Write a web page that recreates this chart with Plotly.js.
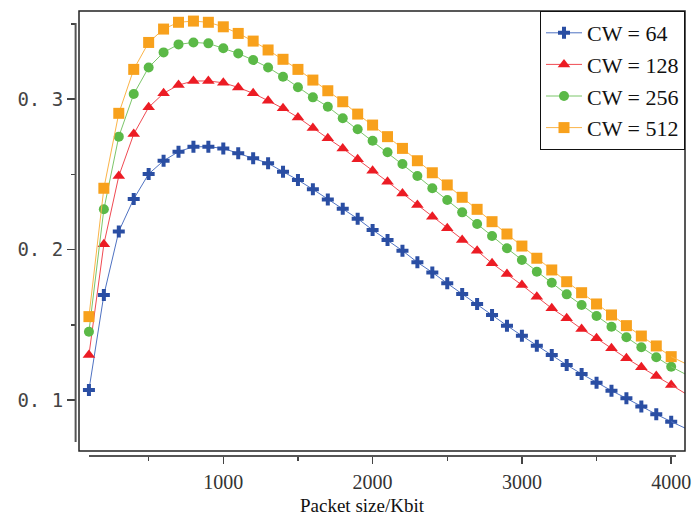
<!DOCTYPE html>
<html>
<head>
<meta charset="utf-8">
<script src="https://cdn.plot.ly/plotly-3.0.1.min.js"></script>
<style>html,body{margin:0;padding:0;background:#fff;}#chart{width:694px;height:516px;}</style>
</head>
<body>
<div id="chart"></div>
<script>
const packetSize = [100,200,300,400,500,600,700,800,900,1000,1100,1200,1300,1400,1500,1600,1700,1800,1900,2000,2100,2200,2300,2400,2500,2600,2700,2800,2900,3000,3100,3200,3300,3400,3500,3600,3700,3800,3900,4000];
const cw64  = [0.1066,0.1698,0.2120,0.2336,0.2502,0.2590,0.2650,0.2683,0.2683,0.2672,0.2639,0.2606,0.2573,0.2517,0.2462,0.2400,0.2333,0.2271,0.2205,0.2130,0.2063,0.1992,0.1915,0.1848,0.1775,0.1704,0.1638,0.1565,0.1494,0.1427,0.1361,0.1299,0.1233,0.1173,0.1115,0.1062,0.1011,0.0956,0.0905,0.0856];
const cw128 = [0.1299,0.2035,0.2488,0.2767,0.2945,0.3038,0.3093,0.3120,0.3120,0.3108,0.3077,0.3038,0.2989,0.2938,0.2878,0.2807,0.2739,0.2672,0.2599,0.2524,0.2451,0.2373,0.2296,0.2218,0.2141,0.2063,0.1992,0.1908,0.1837,0.1764,0.1686,0.1609,0.1543,0.1472,0.1410,0.1344,0.1277,0.1217,0.1159,0.1100];
const cw256 = [0.1454,0.2267,0.2750,0.3033,0.3210,0.3310,0.3363,0.3376,0.3370,0.3337,0.3303,0.3259,0.3210,0.3148,0.3078,0.3011,0.2949,0.2872,0.2799,0.2723,0.2646,0.2568,0.2488,0.2407,0.2329,0.2247,0.2169,0.2090,0.2008,0.1930,0.1853,0.1779,0.1702,0.1631,0.1558,0.1487,0.1417,0.1350,0.1284,0.1221];
const cw512 = [0.1554,0.2407,0.2905,0.3197,0.3376,0.3465,0.3510,0.3518,0.3510,0.3480,0.3436,0.3385,0.3326,0.3264,0.3197,0.3126,0.3055,0.2982,0.2900,0.2827,0.2750,0.2672,0.2590,0.2510,0.2429,0.2347,0.2267,0.2185,0.2103,0.2023,0.1942,0.1864,0.1786,0.1713,0.1638,0.1565,0.1494,0.1425,0.1359,0.1288];
// curve continuation beyond the last marker, up to the frame edge
const edgeX = 4100;
const edgeValues = [0.0810, 0.1040, 0.1169, 0.1240];

const seriesNames = ['CW = 64','CW = 128','CW = 256','CW = 512'];
const seriesValues = [cw64, cw128, cw256, cw512];

const yTickVals = [0.1, 0.2, 0.3];
const yTickText = ['0. 1', '0. 2', '0. 3'];
const yMinorVals = [0.15, 0.25, 0.35];
const xTickVals = [1000, 2000, 3000, 4000];
const xTickText = ['1000', '2000', '3000', '4000'];
const xMinorVals = [500, 1500, 2500, 3500];

const markerColors = ['#2a4ea3', '#ec1c24', '#5bb947', '#f8a11c'];
const lineColors = ['#4f72c2', '#f04a52', '#7cc66a', '#fbb448'];
const symbols = ['cross', 'triangle-up', 'circle', 'square'];
const sizes = [10, 11, 10, 11];

const traces = [];
seriesValues.forEach((vals, i) => {
  traces.push({
    x: packetSize, y: vals, name: seriesNames[i], type: 'scatter', mode: 'lines+markers',
    line: {color: lineColors[i], width: 1},
    marker: {symbol: symbols[i], size: sizes[i], color: markerColors[i], line: {width: 0}},
    cliponaxis: false
  });
  traces.push({
    x: [packetSize[packetSize.length - 1], edgeX], y: [vals[vals.length - 1], edgeValues[i]],
    type: 'scatter', mode: 'lines', showlegend: false, hoverinfo: 'skip',
    line: {color: lineColors[i], width: 1}
  });
});

const L = 75, R = 9, T = 11, B = 60, W = 694, H = 516;
const pw = W - L - R, ph = H - T - B;
const px = v => (v - L) / pw;
const py = v => (H - B - v) / ph;

const layout = {
  width: W, height: H,
  margin: {l: L, r: R, t: T, b: B, pad: 0},
  paper_bgcolor: '#ffffff', plot_bgcolor: '#ffffff',
  showlegend: true,
  xaxis: {
    domain: [px(79), 1], range: [33.5, 4092.4], anchor: 'free', position: 0,
    showline: false, zeroline: false, showgrid: false,
    tickmode: 'array', tickvals: xTickVals, ticktext: xTickText,
    ticks: 'outside', ticklen: 7, tickwidth: 1.5, tickcolor: '#444',
    ticklabelstandoff: 1,
    minor: {tickmode: 'array', tickvals: xMinorVals, ticks: 'outside', ticklen: 4, tickwidth: 1.5, tickcolor: '#444', showgrid: false},
    tickfont: {family: 'Liberation Serif, Times New Roman, serif', size: 20, color: '#333'}
  },
  yaxis: {
    domain: [py(451), 1], range: [0.0661, 0.3585], anchor: 'free', position: 0,
    showline: false, zeroline: false, showgrid: false,
    tickmode: 'array', tickvals: yTickVals, ticktext: yTickText,
    ticks: 'outside', ticklen: 8, tickwidth: 1.5, tickcolor: '#444',
    minor: {tickmode: 'array', tickvals: yMinorVals, ticks: 'outside', ticklen: 4, tickwidth: 1.5, tickcolor: '#444', showgrid: false},
    tickfont: {family: 'DejaVu Sans Mono, monospace', size: 19, color: '#444'}
  },
  legend: {
    x: 1, y: 1, xanchor: 'right', yanchor: 'top',
    bgcolor: '#ffffff', bordercolor: '#111', borderwidth: 1,
    font: {family: 'Liberation Serif, Times New Roman, serif', size: 22, color: '#111'},
    tracegroupgap: 0, itemwidth: 36
  },
  shapes: [
    {type: 'rect', xref: 'paper', yref: 'paper', x0: px(79), x1: 1, y0: py(451), y1: 1, line: {color: '#222', width: 1.5}, fillcolor: 'rgba(0,0,0,0)', layer: 'above'},
    {type: 'line', xref: 'paper', yref: 'paper', x0: 0.001, x1: 0.001, y0: py(442), y1: py(23), line: {color: '#555', width: 2}},
    {type: 'line', xref: 'paper', yref: 'paper', x0: px(89), x1: px(676), y0: 0, y1: 0, line: {color: '#555', width: 2}}
  ],
  annotations: [
    {text: 'Packet size/Kbit', xref: 'paper', yref: 'paper', x: px(362), y: py(505), xanchor: 'center', yanchor: 'middle', showarrow: false,
     font: {family: 'Liberation Serif, Times New Roman, serif', size: 19, color: '#111'}}
  ]
};

Plotly.newPlot('chart', traces, layout, {displayModeBar: false, staticPlot: true});
</script>
</body>
</html>
